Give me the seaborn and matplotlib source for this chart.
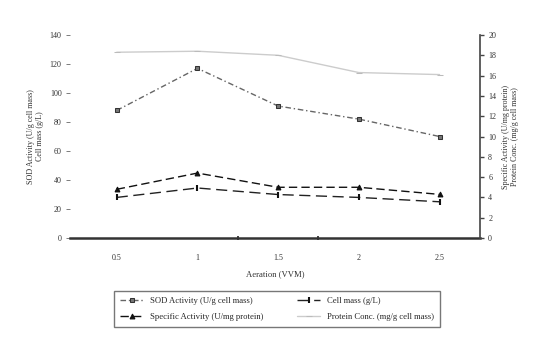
import pandas as pd
import matplotlib
matplotlib.use("Agg")
import matplotlib.pyplot as plt
import seaborn as sns

# values
aeration = ["0.5", "1", "1.5", "2", "2.5"]
sod_activity = [88, 117, 91, 82, 70]          # U/g cell mass, left axis
cell_mass = [28, 34.5, 30, 28, 25]            # g/L, left axis
specific_activity = [4.8, 6.4, 5.0, 5.0, 4.3] # U/mg protein, right axis
protein_conc = [18.3, 18.4, 18.0, 16.3, 16.1] # mg/g cell mass, right axis

left_ticks = [0, 20, 40, 60, 80, 100, 120, 140]
right_ticks = [0, 2, 4, 6, 8, 10, 12, 14, 16, 18, 20]

sns.set_style("white")
plt.rcParams["font.family"] = ["Liberation Serif", "DejaVu Serif"]

df = pd.DataFrame({
    "x": range(len(aeration)),
    "sod": sod_activity,
    "cell": cell_mass,
    "spec": specific_activity,
    "prot": protein_conc,
})

fig = plt.figure(figsize=(5.38, 3.43), dpi=100)
ax = fig.add_axes([0.130, 0.306, 0.762, 0.592])
ax2 = ax.twinx()

sns.lineplot(data=df, x="x", y="sod", ax=ax, color="#666666", lw=1.0,
             linestyle=(0, (4, 2, 1, 2)), marker="s", markersize=3.5,
             markeredgecolor="#333333", markerfacecolor="#777777",
             label="SOD Activity (U/g cell mass)", legend=False)
sns.lineplot(data=df, x="x", y="cell", ax=ax, color="#222222", lw=1.0,
             linestyle=(0, (8, 4)), marker="|", markersize=5,
             markeredgewidth=1.5, markeredgecolor="#111111",
             label="Cell mass (g/L)", legend=False)
sns.lineplot(data=df, x="x", y="spec", ax=ax2, color="#111111", lw=1.0,
             linestyle=(0, (6, 3)), marker="^", markersize=3.5,
             markeredgecolor="#111111", markerfacecolor="#111111",
             label="Specific Activity (U/mg protein)", legend=False)
sns.lineplot(data=df, x="x", y="prot", ax=ax2, color="#cccccc", lw=1.0,
             marker="_", markersize=5, markeredgecolor="#bbbbbb",
             label="Protein Conc. (mg/g cell mass)", legend=False)

ax.set_xlim(-0.58, 4.5)
ax.set_ylim(0, 140)
ax2.set_ylim(0, 20)
ax.set_xticks(range(len(aeration)))
ax.set_xticklabels(aeration)
ax.set_xticks([1.5, 2.5], minor=True)
ax.set_yticks(left_ticks)
ax2.set_yticks(right_ticks)

for a in (ax, ax2):
    a.spines["top"].set_visible(False)
ax.spines["left"].set_visible(False)
ax2.spines["left"].set_visible(False)
ax.spines["right"].set_visible(False)
ax2.spines["right"].set_color("#444444")
ax2.spines["right"].set_linewidth(1.2)
ax2.spines["bottom"].set_visible(False)
ax.spines["bottom"].set_color("#333333")
ax.spines["bottom"].set_linewidth(1.8)

ax.tick_params(axis="y", left=True, length=3, width=0.6, color="#666666",
               labelsize=5.8, pad=3, labelcolor="#333333")
ax.tick_params(axis="x", which="major", bottom=False, labelsize=5.8,
               pad=8, labelcolor="#333333")
ax.tick_params(axis="x", which="minor", bottom=True, top=False, length=3,
               width=1.2, color="#222222", direction="inout")
ax2.tick_params(axis="y", right=True, length=3, width=1.0, color="#444444",
                labelsize=5.8, pad=3, labelcolor="#333333")

ax.set_xlabel("Aeration (VVM)", fontsize=6.2, color="#333333", labelpad=6)
ax.set_ylabel("SOD Activity (U/g cell mass)\nCell mass (g/L)", fontsize=5.8,
              color="#333333", labelpad=4)
ax2.set_ylabel("Specific Activity (U/mg protein)\nProtein Conc. (mg/g cell mass)",
               fontsize=5.8, color="#333333", labelpad=4, rotation=90)
ax2.yaxis.set_label_position("right")

h1, l1 = ax.get_legend_handles_labels()
h2, l2 = ax2.get_legend_handles_labels()
hs = [h1[0], h1[1], h2[0], h2[1]]
ls = [l1[0], l1[1], l2[0], l2[1]]
# column-major order for 2 columns: SOD, Spec | Cell, Prot
order = [0, 2, 1, 3]
leg = fig.legend([hs[i] for i in order], [ls[i] for i in order], ncol=2,
                 loc="center", bbox_to_anchor=(0.515, 0.100),
                 fontsize=6.2, frameon=True, fancybox=False,
                 edgecolor="#555555", handlelength=2.6, columnspacing=4.0,
                 borderpad=0.7, labelspacing=0.9, handletextpad=0.8)
leg.get_frame().set_linewidth(1.0)

fig.savefig("out.png", dpi=100)
